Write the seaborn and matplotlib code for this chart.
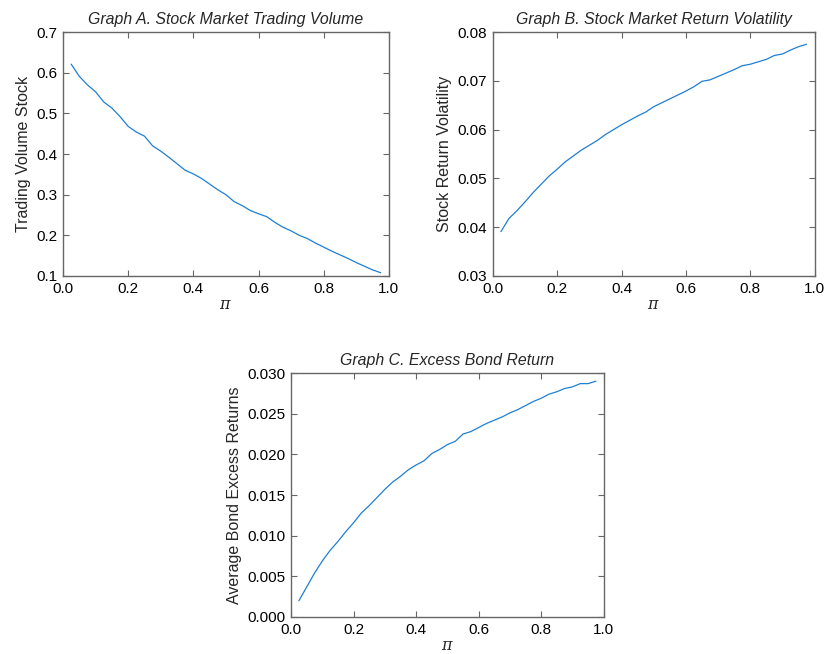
import matplotlib
matplotlib.use("Agg")
import matplotlib.pyplot as plt
import seaborn as sns
import numpy as np
import pandas as pd

# Data
pi = [0.025, 0.05, 0.075, 0.1, 0.125, 0.15, 0.175, 0.2, 0.225, 0.25,
      0.275, 0.3, 0.325, 0.35, 0.375, 0.4, 0.425, 0.45, 0.475, 0.5,
      0.525, 0.55, 0.575, 0.6, 0.625, 0.65, 0.675, 0.7, 0.725, 0.75,
      0.775, 0.8, 0.825, 0.85, 0.875, 0.9, 0.925, 0.95, 0.975]

trading_volume = [0.621, 0.591, 0.570, 0.553, 0.528, 0.513, 0.492, 0.468, 0.454, 0.444,
                  0.420, 0.407, 0.392, 0.376, 0.360, 0.351, 0.340, 0.326, 0.312, 0.300,
                  0.283, 0.273, 0.261, 0.253, 0.246, 0.232, 0.220, 0.211, 0.200, 0.192,
                  0.181, 0.171, 0.161, 0.152, 0.143, 0.133, 0.124, 0.115, 0.108]

return_vol = [0.0391, 0.0418, 0.0434, 0.0452, 0.0471, 0.0488, 0.0505, 0.0519, 0.0534, 0.0546,
              0.0558, 0.0568, 0.0578, 0.0590, 0.0600, 0.0610, 0.0619, 0.0628, 0.0636, 0.0647,
              0.0655, 0.0663, 0.0671, 0.0679, 0.0688, 0.0699, 0.0702, 0.0709, 0.0716, 0.0723,
              0.0731, 0.0734, 0.0739, 0.0744, 0.0752, 0.0755, 0.0763, 0.0770, 0.0775]

bond_excess = [0.0020, 0.0037, 0.0054, 0.0069, 0.0082, 0.0093, 0.0105, 0.0116, 0.0128, 0.0137,
               0.0147, 0.0157, 0.0166, 0.0173, 0.0181, 0.0187, 0.0192, 0.0201, 0.0206, 0.0212,
               0.0216, 0.0225, 0.0228, 0.0233, 0.0238, 0.0242, 0.0246, 0.0251, 0.0255, 0.0260,
               0.0265, 0.0269, 0.0274, 0.0277, 0.0281, 0.0283, 0.0287, 0.0287, 0.0290]

sns.set_style("ticks")
plt.rcParams["font.family"] = ["Liberation Sans", "DejaVu Sans"]
plt.rcParams["mathtext.fontset"] = "dejavuserif"

line_color = "#1f7fd2"
spine_color = "#666666"

fig = plt.figure(figsize=(8.27, 6.54), dpi=100)
ax_a = fig.add_axes([0.0762, 0.578, 0.394, 0.373])
ax_b = fig.add_axes([0.596, 0.578, 0.389, 0.373])
ax_c = fig.add_axes([0.352, 0.0566, 0.378, 0.373])

panels = [
    (ax_a, trading_volume, "Graph A. Stock Market Trading Volume", "Trading Volume Stock",
     (0.1, 0.7), np.arange(0.1, 0.71, 0.1), "{:.1f}"),
    (ax_b, return_vol, "Graph B. Stock Market Return Volatility", "Stock Return Volatility",
     (0.03, 0.08), np.arange(0.03, 0.0801, 0.01), "{:.2f}"),
    (ax_c, bond_excess, "Graph C. Excess Bond Return", "Average Bond Excess Returns",
     (0.0, 0.03), np.arange(0.0, 0.0301, 0.005), "{:.3f}"),
]

for ax, vals, title, ylabel, ylim, yticks, fmt in panels:
    df = pd.DataFrame({"pi": pi, "val": vals})
    sns.lineplot(data=df, x="pi", y="val", ax=ax, color=line_color, linewidth=0.9)
    ax.set_xlim(0, 1)
    ax.set_ylim(*ylim)
    ax.set_xticks(np.arange(0, 1.01, 0.2))
    ax.set_xticklabels([f"{t:.1f}" for t in np.arange(0, 1.01, 0.2)])
    ax.set_yticks(yticks)
    ax.set_yticklabels([fmt.format(t) for t in yticks])
    ax.set_title(title, fontsize=11.4, style="italic", pad=6)
    ax.set_ylabel(ylabel, fontsize=11.5, labelpad=4)
    ax.set_xlabel(r"$\pi$", fontsize=11.5, labelpad=1)
    ax.tick_params(direction="in", length=4, width=0.8, colors=spine_color,
                   labelcolor="black", labelsize=11, top=True, right=True, pad=4)
    for s in ax.spines.values():
        s.set_visible(True)
        s.set_color(spine_color)
        s.set_linewidth(1.0)

fig.savefig("out.png", dpi=100)
